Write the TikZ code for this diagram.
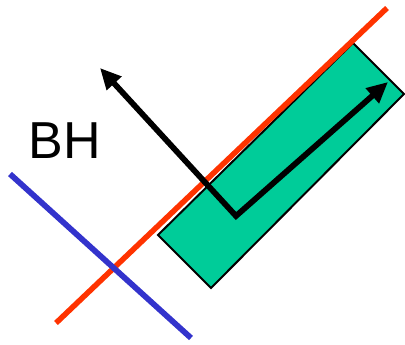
\documentclass[tikz,border=0pt]{standalone}
\usepackage{fontspec}
\setmainfont{Liberation Sans}
\usetikzlibrary{arrows.meta}
\definecolor{boxgreen}{RGB}{0,204,153}
\definecolor{linered}{RGB}{255,51,0}
\definecolor{lineblue}{RGB}{51,51,204}
\tikzset{
  boxstyle/.style={draw=black, line width=2pt, fill=boxgreen, line join=miter},
  redline/.style={draw=linered, line width=5.5pt},
  blueline/.style={draw=lineblue, line width=5.75pt},
  vecstyle/.style={draw=black, line width=5.75pt, line join=miter,
    {Triangle[length=21pt,width=19pt]}-{Triangle[length=21pt,width=19pt]}},
  lbl/.style={font=\fontsize{52}{52}\selectfont, inner sep=0pt, anchor=base}
}
\begin{document}
\begin{tikzpicture}[x=1pt,y=-1pt]
\useasboundingbox (0,0) rectangle (405,345);
\coordinate (r1) at (158,235);
\coordinate (r2) at (211,288);
\coordinate (r3) at (404,94);
\coordinate (r4) at (353,43);
\draw[boxstyle] (r1) -- (r2) -- (r3) -- (r4) -- cycle;
\coordinate (ra) at (56,323);
\coordinate (rb) at (387,8);
\draw[redline] (ra) -- (rb);
\coordinate (ba) at (10,174);
\coordinate (bb) at (191,338);
\draw[blueline] (ba) -- (bb);
\coordinate (t1) at (100,68);
\coordinate (c) at (236,216);
\coordinate (t2) at (388,82);
\draw[vecstyle] (t1) -- (c) -- (t2);
\node[lbl] (bh) at (65,159) {BH};
\end{tikzpicture}
\end{document}
